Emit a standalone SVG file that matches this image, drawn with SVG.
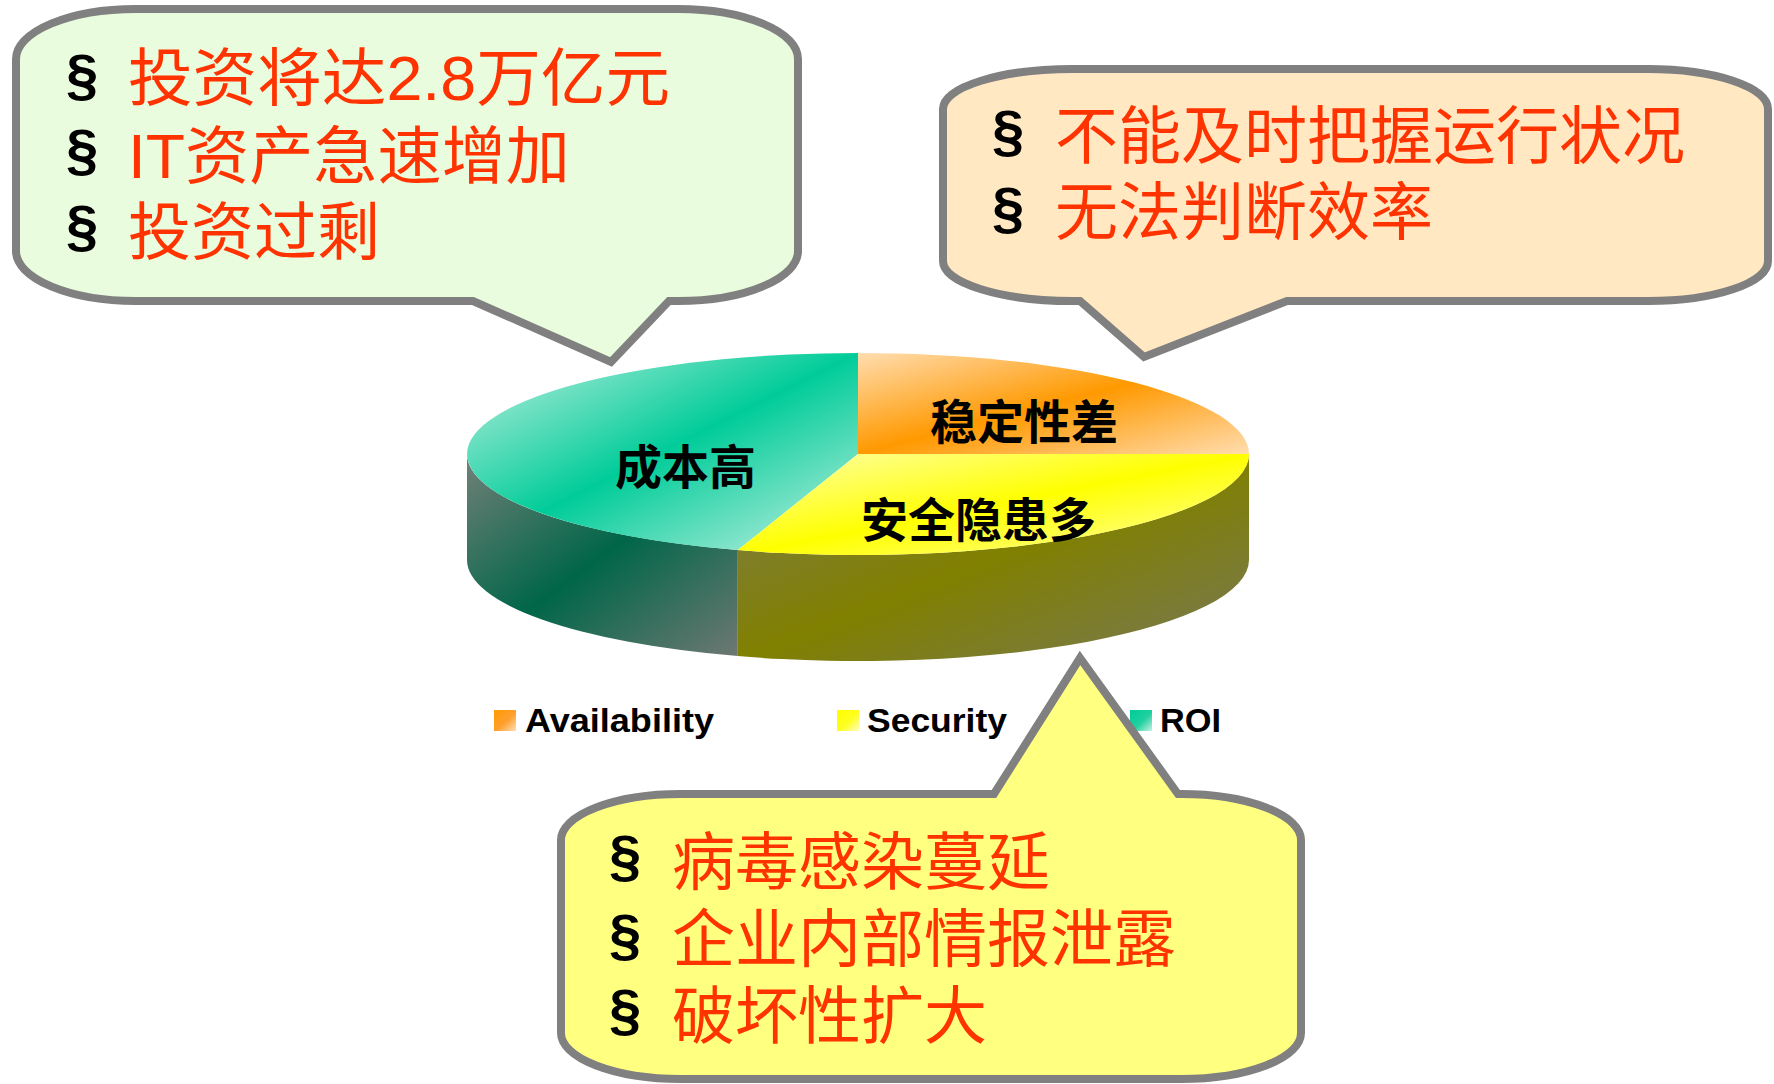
<svg xmlns="http://www.w3.org/2000/svg" width="1774" height="1084" viewBox="0 0 1774 1084">
<defs>
<style>
.bub{stroke:#808080;stroke-width:8;stroke-linejoin:miter}
.sec{font-family:"Liberation Sans",Arial,sans-serif;font-weight:bold;font-size:58px;fill:#000}
.t{font-family:"Liberation Sans","Noto Sans CJK SC",sans-serif;font-size:63px;fill:#FF3300}
.lbl{font-family:"Noto Sans CJK SC",sans-serif;font-weight:bold;font-size:47px;fill:#000}
.lg{font-family:"Liberation Sans",Arial,sans-serif;font-weight:bold;font-size:33px;fill:#000}
</style>
<linearGradient id="gTop" x1="0" y1="0" x2="1" y2="1">
<stop offset="0" stop-color="#C4F0E2"/><stop offset="0.5" stop-color="#00CC99"/><stop offset="1" stop-color="#C4F0E2"/>
</linearGradient>
<linearGradient id="oTop" x1="0" y1="0" x2="1" y2="1">
<stop offset="0" stop-color="#FFDDB0"/><stop offset="0.5" stop-color="#FF9900"/><stop offset="1" stop-color="#FFDDB0"/>
</linearGradient>
<linearGradient id="yTop" x1="0" y1="0" x2="1" y2="1">
<stop offset="0" stop-color="#FFFFB0"/><stop offset="0.5" stop-color="#FFFF00"/><stop offset="1" stop-color="#FFFFB0"/>
</linearGradient>
<linearGradient id="gSide" x1="0" y1="0" x2="1" y2="1">
<stop offset="0" stop-color="#738079"/><stop offset="0.5" stop-color="#006648"/><stop offset="1" stop-color="#6E7873"/>
</linearGradient>
<linearGradient id="ySide" x1="0" y1="0" x2="1" y2="1">
<stop offset="0" stop-color="#7E7C50"/><stop offset="0.5" stop-color="#808000"/><stop offset="1" stop-color="#787858"/>
</linearGradient>
<linearGradient id="oSw" x1="0" y1="0" x2="1" y2="1">
<stop offset="0" stop-color="#FF9900"/><stop offset="0.55" stop-color="#FFA030"/><stop offset="1" stop-color="#FFE0B8"/>
</linearGradient>
<linearGradient id="ySw" x1="0" y1="0" x2="1" y2="1">
<stop offset="0" stop-color="#FFFF00"/><stop offset="0.55" stop-color="#FFFF20"/><stop offset="1" stop-color="#FFFFC0"/>
</linearGradient>
<linearGradient id="gSw" x1="0" y1="0" x2="1" y2="1">
<stop offset="0" stop-color="#00CC99"/><stop offset="0.55" stop-color="#20D0A0"/><stop offset="1" stop-color="#C8F2E4"/>
</linearGradient>
</defs>
<rect width="1774" height="1084" fill="#FFFFFF"/>

<g id="pie">
<path d="M467,454 A391,101 0 0 0 737.8,550.1 L737.8,656.1 A391,101 0 0 1 467,560 Z" fill="url(#gSide)"/>
<path d="M1249,454 A391,101 0 0 1 737.8,550.1 L737.8,656.1 A391,101 0 0 0 1249,560 Z" fill="url(#ySide)"/>
<path d="M858,454 L858,353 A391,101 0 0 0 737.8,550.1 Z" fill="url(#gTop)"/>
<path d="M858,454 L858,353 A391,101 0 0 1 1249,454 Z" fill="url(#oTop)"/>
<path d="M858,454 L1249,454 A391,101 0 0 1 737.8,550.1 Z" fill="url(#yTop)"/>
<text class="lbl" x="615" y="484">成本高</text>
<text class="lbl" x="930" y="439">稳定性差</text>
<text class="lbl" x="861" y="537">安全隐患多</text>
</g>

<g id="legend">
<rect x="494" y="710" width="22" height="21" fill="url(#oSw)"/>
<text class="lg" x="525" y="732" textLength="189" lengthAdjust="spacingAndGlyphs">Availability</text>
<rect x="837" y="710" width="22" height="21" fill="url(#ySw)"/>
<text class="lg" x="867" y="732" textLength="140" lengthAdjust="spacingAndGlyphs">Security</text>
<rect x="1130" y="710" width="22" height="21" fill="url(#gSw)"/>
<text class="lg" x="1160" y="732" textLength="61" lengthAdjust="spacingAndGlyphs">ROI</text>
</g>

<g id="connectors"></g>

<g id="bubble-cost">
<path class="bub" fill="#E9FCDD" d="M136,9 H678 A120,50 0 0 1 798,59 V251 A120,50 0 0 1 678,301 H669 L611,362 L473,301 H136 A120,50 0 0 1 16,251 V59 A120,50 0 0 1 136,9 Z"/>
<text class="sec" x="66" y="95">§</text>
<text class="sec" x="66" y="170">§</text>
<text class="sec" x="66" y="246">§</text>
<text class="t" x="128" y="99.5" textLength="542" lengthAdjust="spacingAndGlyphs">投资将达2.8万亿元</text>
<text class="t" x="128" y="177.5" textLength="442" lengthAdjust="spacingAndGlyphs">IT资产急速增加</text>
<text class="t" x="128" y="253.5">投资过剩</text>
</g>

<g id="bubble-availability">
<path class="bub" fill="#FFE8C2" d="M1073,69 H1648 A120,40 0 0 1 1768,109 V261 A120,40 0 0 1 1648,301 H1287 L1144,357 L1080,301 H1073 A130,40 0 0 1 943,261 V109 A130,40 0 0 1 1073,69 Z"/>
<text class="sec" x="992" y="151">§</text>
<text class="sec" x="992" y="228">§</text>
<text class="t" x="1055" y="157.5">不能及时把握运行状况</text>
<text class="t" x="1055" y="233.5">无法判断效率</text>
</g>

<g id="bubble-security">
<path class="bub" fill="#FFFF80" d="M681,794 H994 L1080,658 L1178,794 H1181 A120,46 0 0 1 1301,840 V1033 A120,46 0 0 1 1181,1079 H681 A120,46 0 0 1 561,1033 V840 A120,46 0 0 1 681,794 Z"/>
<text class="sec" x="609" y="876">§</text>
<text class="sec" x="609" y="955">§</text>
<text class="sec" x="609" y="1030">§</text>
<text class="t" x="672" y="883.5">病毒感染蔓延</text>
<text class="t" x="672" y="960.5">企业内部情报泄露</text>
<text class="t" x="672" y="1037.5">破坏性扩大</text>
</g>
</svg>
